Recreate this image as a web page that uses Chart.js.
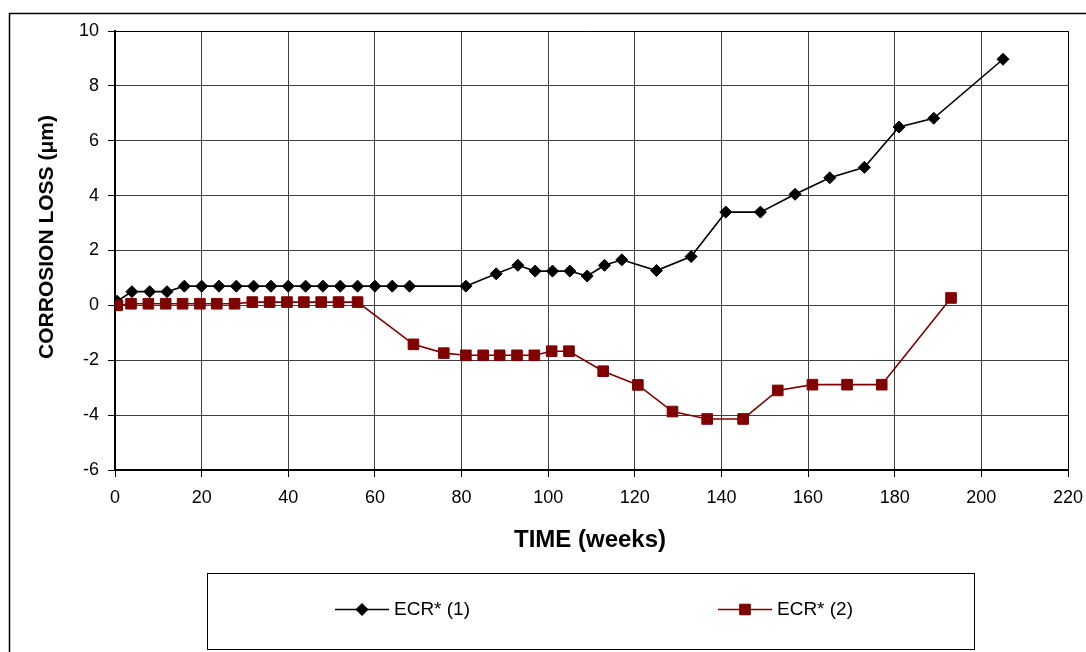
<!DOCTYPE html>
<html>
<head>
<meta charset="utf-8">
<script src="https://cdn.jsdelivr.net/npm/chart.js@4.4.1/dist/chart.umd.min.js"></script>
<style>
  html, body { margin: 0; padding: 0; background: #fff; }
  #wrap { position: relative; width: 1086px; height: 652px; }
  canvas { display: block; }
</style>
</head>
<body>
<div id="wrap"><canvas id="c" width="1086" height="652"></canvas></div>
<script>
// ---- data ----
const series1Name = "ECR* (1)";
const series1Weeks = [0.5, 3.9, 8, 12, 16, 20, 24, 28, 32, 36, 40, 44, 48, 52, 56, 60, 64, 68, 81, 88, 93, 97, 101, 105, 109, 113, 117, 125, 133, 141, 149, 157, 165, 173, 181, 189, 205];
const series1Loss  = [0.15, 0.5, 0.5, 0.5, 0.7, 0.7, 0.7, 0.7, 0.7, 0.7, 0.7, 0.7, 0.7, 0.7, 0.7, 0.7, 0.7, 0.7, 0.7, 1.15, 1.46, 1.25, 1.25, 1.25, 1.07, 1.46, 1.66, 1.27, 1.78, 3.4, 3.4, 4.05, 4.65, 5.03, 6.5, 6.82, 8.97];

const series2Name = "ECR* (2)";
const series2Weeks = [0.5, 3.7, 7.7, 11.7, 15.6, 19.6, 23.5, 27.6, 31.7, 35.7, 39.7, 43.6, 47.6, 51.6, 56, 68.9, 75.9, 81, 85, 88.8, 92.8, 96.8, 100.8, 104.8, 112.7, 120.7, 128.7, 136.7, 145, 153, 161, 169, 177, 193];
const series2Loss  = [0, 0.06, 0.06, 0.06, 0.06, 0.06, 0.06, 0.06, 0.12, 0.12, 0.12, 0.12, 0.12, 0.12, 0.12, -1.42, -1.74, -1.82, -1.82, -1.82, -1.82, -1.82, -1.67, -1.67, -2.4, -2.9, -3.87, -4.14, -4.14, -3.1, -2.89, -2.89, -2.89, 0.27];

const xTickValues = [0, 20, 40, 60, 80, 100, 120, 140, 160, 180, 200, 220];
const yTickValues = [-6, -4, -2, 0, 2, 4, 6, 8, 10];

const xTitle = "TIME (weeks)";
const yTitle = "CORROSION LOSS (μm)";

// ---- styles ----
const BLACK = "#000000";
const MAROON = "#800000";
const FONT = "'Liberation Sans', Arial, sans-serif";

function pairs(xs, ys) { return xs.map((x, i) => ({ x: x, y: ys[i] })); }

const decorPlugin = {
  id: 'decor',
  beforeDraw(chart) {
    const ctx = chart.ctx;
    ctx.save();
    ctx.fillStyle = '#fff';
    ctx.fillRect(0, 0, chart.width, chart.height);
    // outer frame (open on right and bottom)
    ctx.strokeStyle = '#000';
    ctx.lineWidth = 1.5;
    ctx.beginPath();
    ctx.moveTo(9.5, chart.height + 2);
    ctx.lineTo(9.5, 13.5);
    ctx.lineTo(chart.width + 2, 13.5);
    ctx.stroke();
    ctx.restore();
  },
  afterDraw(chart) {
    const ctx = chart.ctx;
    const area = chart.chartArea;
    ctx.save();
    // plot frame top/right
    ctx.strokeStyle = '#000';
    ctx.lineWidth = 1;
    ctx.beginPath();
    ctx.moveTo(area.left, area.top + 0.5);
    ctx.lineTo(area.right + 0.5, area.top + 0.5);
    ctx.lineTo(area.right + 0.5, area.bottom);
    ctx.stroke();

    // axis titles
    ctx.fillStyle = '#000';
    ctx.font = "bold 24px " + FONT;
    ctx.textAlign = 'center';
    ctx.textBaseline = 'alphabetic';
    ctx.fillText(xTitle, 590, 547);

    ctx.save();
    ctx.translate(53, 237);
    ctx.rotate(-Math.PI / 2);
    ctx.font = "bold 21px " + FONT;
    ctx.textAlign = 'center';
    ctx.textBaseline = 'alphabetic';
    ctx.fillText(yTitle, 0, 0);
    ctx.restore();

    // legend box
    ctx.strokeStyle = '#000';
    ctx.lineWidth = 1;
    ctx.strokeRect(207.5, 573.5, 767, 76);

    const items = [
      { ds: chart.data.datasets.find(d => d.label === series1Name), x0: 335 },
      { ds: chart.data.datasets.find(d => d.label === series2Name), x0: 718 }
    ];
    const ly = 609;
    items.forEach(it => {
      const ds = it.ds;
      ctx.strokeStyle = ds.borderColor;
      ctx.lineWidth = ds.borderWidth;
      ctx.beginPath();
      ctx.moveTo(it.x0, ly + 0.5);
      ctx.lineTo(it.x0 + 54, ly + 0.5);
      ctx.stroke();
      ctx.fillStyle = ds.pointBackgroundColor;
      ctx.strokeStyle = ds.pointBorderColor;
      ctx.lineWidth = ds.pointBorderWidth;
      Chart.helpers.drawPoint(ctx, {
        pointStyle: ds.pointStyle,
        radius: ds.pointRadius,
        borderWidth: ds.pointBorderWidth,
        rotation: 0
      }, it.x0 + 27, ly + 0.5);
      ctx.fillStyle = '#000';
      ctx.font = "19px " + FONT;
      ctx.textAlign = 'left';
      ctx.textBaseline = 'middle';
      ctx.fillText(ds.label, it.x0 + 59, ly + 1);
    });
    ctx.restore();
  }
};

const datasets = [
  {
    label: series2Name,
    data: pairs(series2Weeks, series2Loss),
    borderColor: MAROON,
    backgroundColor: MAROON,
    borderWidth: 1.6,
    pointStyle: 'rect',
    pointRadius: 7.5,
    pointHoverRadius: 7.5,
    pointBackgroundColor: MAROON,
    pointBorderColor: MAROON,
    pointBorderWidth: 1,
    tension: 0,
    order: 1
  },
  {
    label: series1Name,
    data: pairs(series1Weeks, series1Loss),
    borderColor: BLACK,
    backgroundColor: BLACK,
    borderWidth: 1.6,
    pointStyle: 'rectRot',
    pointRadius: 6,
    pointHoverRadius: 6,
    pointBackgroundColor: BLACK,
    pointBorderColor: BLACK,
    pointBorderWidth: 1,
    tension: 0,
    order: 2
  }
];

new Chart(document.getElementById('c'), {
  type: 'line',
  data: { datasets: datasets },
  plugins: [decorPlugin],
  options: {
    responsive: false,
    devicePixelRatio: 1,
    animation: false,
    events: [],
    layout: { padding: { top: 31, right: 18, left: 0, bottom: 0 } },
    plugins: {
      legend: { display: false },
      tooltip: { enabled: false },
      title: { display: false }
    },
    scales: {
      x: {
        type: 'linear',
        min: xTickValues[0],
        max: xTickValues[xTickValues.length - 1],
        afterFit(s) { s.height = 182; s.paddingRight = 0; s.paddingLeft = 0; },
        afterBuildTicks(s) { s.ticks = xTickValues.map(v => ({ value: v })); },
        ticks: {
          color: '#000',
          font: { family: FONT, size: 18 },
          padding: 10,
          maxRotation: 0,
          autoSkip: false
        },
        grid: {
          color: '#404040',
          lineWidth: 1,
          tickLength: 7,
          tickColor: '#000',
          drawTicks: true
        },
        border: { display: true, color: '#000', width: 2 }
      },
      y: {
        type: 'linear',
        min: yTickValues[0],
        max: yTickValues[yTickValues.length - 1],
        afterFit(s) { s.width = 115; s.paddingTop = 0; s.paddingBottom = 0; },
        afterBuildTicks(s) { s.ticks = yTickValues.map(v => ({ value: v })); },
        ticks: {
          color: '#000',
          font: { family: FONT, size: 18 },
          padding: 9,
          autoSkip: false
        },
        grid: {
          color: '#404040',
          lineWidth: 1,
          tickLength: 7,
          tickColor: '#000',
          drawTicks: true
        },
        border: { display: true, color: '#000', width: 2 }
      }
    }
  }
});
</script>
</body>
</html>
